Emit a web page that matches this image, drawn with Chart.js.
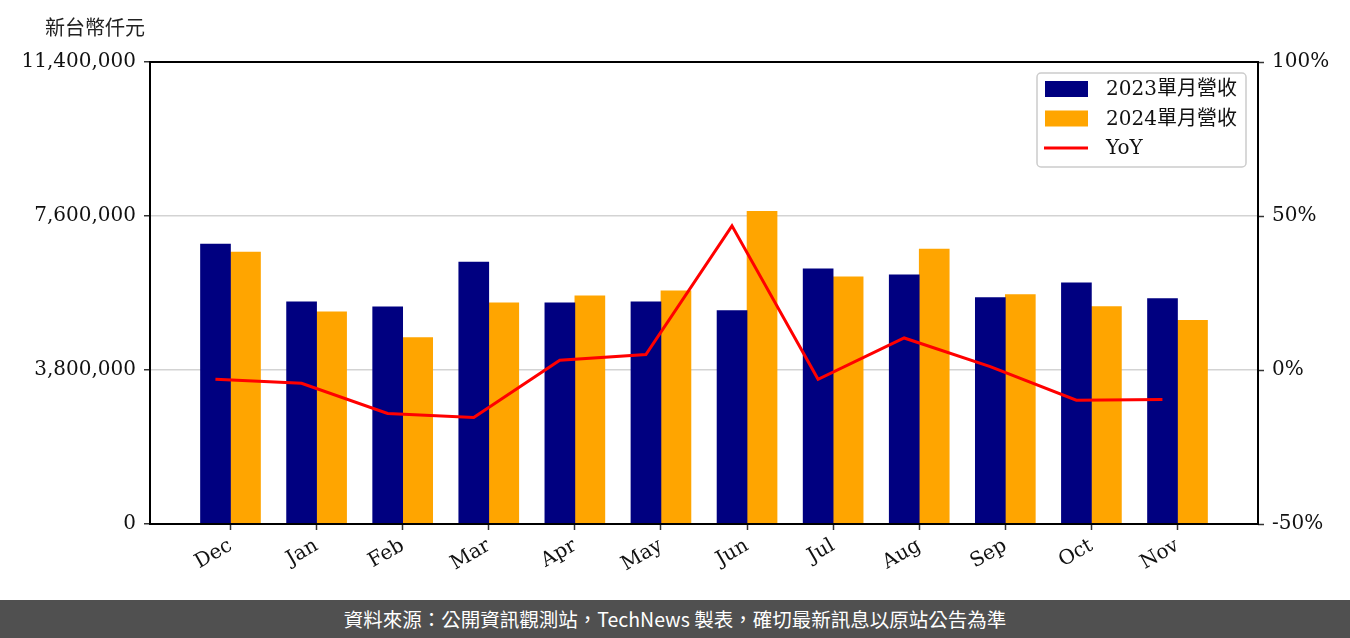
<!DOCTYPE html>
<html>
<head>
<meta charset="utf-8">
<script src="https://cdn.jsdelivr.net/npm/chart.js@4.4.1/dist/chart.umd.min.js"></script>
<style>
  html, body { margin: 0; padding: 0; background: #fff; }
  #wrap { width: 1350px; height: 638px; position: relative; overflow: hidden; }
  #chart { display: block; }
  #footer {
    position: absolute; left: 0; top: 600px; width: 1350px; height: 38px;
    background: #505050; color: #fff; text-align: center;
    font: 19.5px "Noto Sans CJK TC", "Noto Sans", sans-serif; line-height: 38px;
  }
</style>
</head>
<body>
<div id="wrap">
  <canvas id="chart" width="1350" height="600"></canvas>
  <div id="footer">資料來源：公開資訊觀測站，TechNews 製表，確切最新訊息以原站公告為準</div>
</div>
<script>
const months = ['Dec', 'Jan', 'Feb', 'Mar', 'Apr', 'May', 'Jun', 'Jul', 'Aug', 'Sep', 'Oct', 'Nov'];
const revenue2023 = [6905000, 5483000, 5361000, 6464000, 5459000, 5483000, 5268000, 6295000, 6149000, 5586000, 5953000, 5561000];
const revenue2024 = [6709000, 5238000, 4601000, 5459000, 5630000, 5753000, 7714000, 6100000, 6785000, 5659000, 5366000, 5023000];
const yoy = [-3.0, -4.3, -14.1, -15.4, 3.2, 5.0, 46.8, -3.0, 10.4, 1.1, -9.8, -9.6];
const leftTicks = [0, 3800000, 7600000, 11400000];
const rightTicks = [-50, 0, 50, 100];

const SERIF = '"DejaVu Serif", "Noto Sans CJK TC", serif';
const CJK = '"Noto Sans CJK TC", "DejaVu Sans", sans-serif';

// the YoY line sits over the centre of the 2023 bar, not the month tick
const toPoints = (arr, shift = 0) => arr.map((v, i) => ({ x: i + shift, y: v }));

// frame round the plot, unit label and the boxed legend
const decorations = {
  id: 'decorations',
  afterDraw(chart) {
    const { ctx, chartArea } = chart;
    ctx.save();
    ctx.strokeStyle = '#000';
    ctx.lineWidth = 2;
    ctx.strokeRect(chartArea.left, chartArea.top, chartArea.right - chartArea.left, chartArea.bottom - chartArea.top);

    ctx.fillStyle = '#222';
    ctx.font = '20px ' + CJK;
    ctx.textBaseline = 'middle';
    ctx.textAlign = 'left';
    ctx.fillText('新台幣仟元', 45, 27);

    const w = 209, h = 94;
    const x = chartArea.right - 12 - w;
    const y = chartArea.top + 11;
    ctx.beginPath();
    ctx.roundRect(x, y, w, h, 4);
    ctx.fillStyle = 'rgba(255,255,255,0.85)';
    ctx.fill();
    ctx.strokeStyle = '#cccccc';
    ctx.lineWidth = 1.5;
    ctx.stroke();

    ctx.font = '20px ' + SERIF;
    chart.data.datasets.forEach((ds, i) => {
      const cy = y + 16 + i * 29.5;
      if (ds.type === 'line') {
        ctx.strokeStyle = ds.borderColor;
        ctx.lineWidth = 3;
        ctx.beginPath();
        ctx.moveTo(x + 7, cy);
        ctx.lineTo(x + 51, cy);
        ctx.stroke();
      } else {
        ctx.fillStyle = ds.backgroundColor;
        ctx.fillRect(x + 8, cy - 8, 43, 16);
      }
      ctx.fillStyle = '#111';
      ctx.fillText(ds.label, x + 69, cy + 1);
    });
    ctx.restore();
  }
};

new Chart(document.getElementById('chart'), {
  type: 'bar',
  data: {
    datasets: [
      {
        label: '2023單月營收',
        data: toPoints(revenue2023),
        backgroundColor: '#000080',
        barThickness: 30,
        yAxisID: 'y',
        order: 1,
      },
      {
        label: '2024單月營收',
        data: toPoints(revenue2024),
        backgroundColor: '#FFA500',
        barThickness: 30,
        yAxisID: 'y',
        order: 1,
      },
      {
        type: 'line',
        label: 'YoY',
        data: toPoints(yoy, -0.175),
        borderColor: '#FF0000',
        backgroundColor: '#FF0000',
        borderWidth: 3,
        pointRadius: 0,
        tension: 0,
        yAxisID: 'y1',
        order: 0,
      },
    ]
  },
  options: {
    responsive: false,
    animation: false,
    layout: { padding: { top: 62, left: 0, right: 0, bottom: 0 } },
    plugins: {
      legend: { display: false },
      tooltip: { enabled: false },
    },
    scales: {
      x: {
        type: 'linear',
        min: -0.935,
        max: 11.935,
        offset: false,
        afterBuildTicks: scale => { scale.ticks = months.map((_, i) => ({ value: i })); },
        afterFit: scale => { scale.height = 76; },
        border: { display: false },
        grid: { offset: false, drawOnChartArea: false, drawTicks: true, tickLength: 6, tickWidth: 1.5, tickColor: '#333' },
        ticks: {
          autoSkip: false,
          minRotation: 30,
          maxRotation: 30,
          padding: 4,
          color: '#111',
          font: { family: SERIF, size: 20 },
          callback: v => months[v] ?? '',
        },
      },
      y: {
        position: 'left',
        min: 0,
        max: 11400000,
        afterBuildTicks: scale => { scale.ticks = leftTicks.map(v => ({ value: v })); },
        afterFit: scale => { scale.width = 150; },
        border: { display: false },
        grid: {
          color: c => (c.tick && c.tick.value > 0 && c.tick.value < 11400000) ? '#d3d3d3' : 'rgba(0,0,0,0)',
          lineWidth: 1.5,
          tickColor: '#333',
          tickLength: 6,
          tickWidth: 1.5,
        },
        ticks: {
          padding: 8,
          color: '#111',
          font: { family: SERIF, size: 20 },
          callback: v => Number(v).toLocaleString('en-US'),
        },
      },
      y1: {
        position: 'right',
        min: -50,
        max: 100,
        afterBuildTicks: scale => { scale.ticks = rightTicks.map(v => ({ value: v })); },
        afterFit: scale => { scale.width = 92; },
        border: { display: false },
        grid: { drawOnChartArea: false, tickColor: '#333', tickLength: 6, tickWidth: 1.5 },
        ticks: {
          padding: 8,
          color: '#111',
          font: { family: SERIF, size: 20 },
          callback: v => v + '%',
        },
      },
    },
  },
  plugins: [decorations],
});
</script>
</body>
</html>
